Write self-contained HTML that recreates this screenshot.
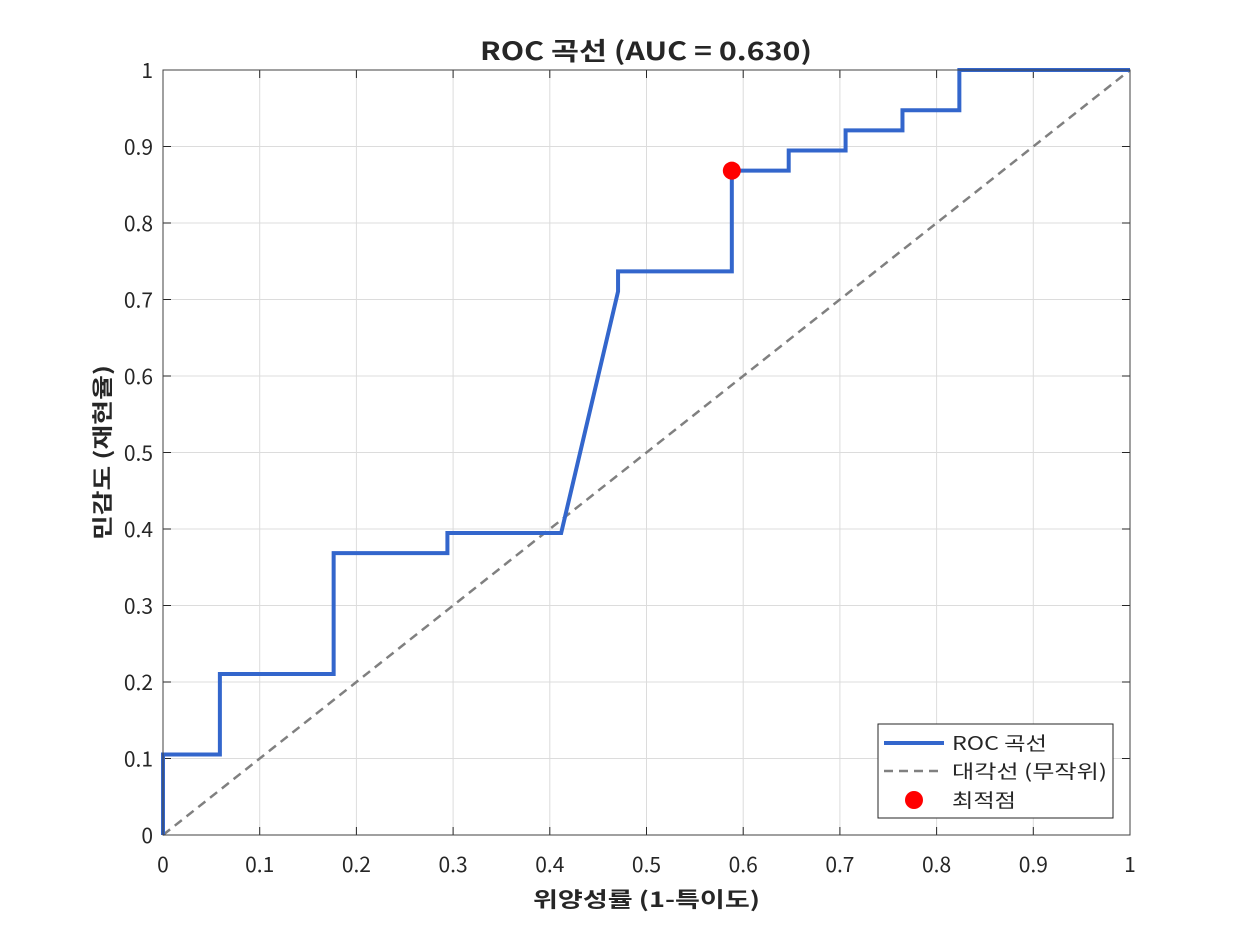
<!DOCTYPE html>
<html><head><meta charset="utf-8"><style>
body{margin:0;background:#fff;font-family:"Noto Sans CJK KR",sans-serif;}
</style></head><body>
<svg id="chart" width="1250" height="938" xmlns="http://www.w3.org/2000/svg" font-family="Noto Sans CJK KR, sans-serif">
<rect width="1250" height="938" fill="#fff"/>
<g id="grid"></g>
<g id="ticks"></g>
<g id="series"></g>
<rect x="163" y="70" width="967" height="765" fill="none" stroke="#404040" stroke-width="1"/>
<text x="480" y="60" font-size="25" font-weight="bold" fill="#262626" textLength="332" lengthAdjust="spacingAndGlyphs">ROC 곡선 (AUC = 0.630)</text>
<text x="533" y="907" font-size="21" font-weight="bold" fill="#262626" textLength="227" lengthAdjust="spacingAndGlyphs">위양성률 (1-특이도)</text>
<text transform="translate(110,540) rotate(-90)" font-size="21" font-weight="bold" fill="#262626" textLength="175" lengthAdjust="spacingAndGlyphs">민감도 (재현율)</text>
<g>
<rect x="878" y="724" width="235" height="94" fill="#fff" stroke="#262626" stroke-width="1"/>
<line x1="884" y1="743" x2="944" y2="743" stroke="#3366cc" stroke-width="4"/>
<text x="952" y="750" font-size="19" fill="#262626" textLength="95" lengthAdjust="spacingAndGlyphs">ROC 곡선</text>
<line x1="884" y1="771" x2="944" y2="771" stroke="#808080" stroke-width="2.5" stroke-dasharray="9,6"/>
<text x="952" y="778" font-size="19" fill="#262626" textLength="155" lengthAdjust="spacingAndGlyphs">대각선 (무작위)</text>
<circle cx="914" cy="800" r="9" fill="#ff0000"/>
<text x="952" y="807" font-size="19" fill="#262626" textLength="64" lengthAdjust="spacingAndGlyphs">최적점</text>
</g>
</svg>
<script>
const fprValues=[0,0,1/17,1/17,3/17,3/17,5/17,5/17,7/17,8/17,8/17,10/17,10/17,11/17,11/17,12/17,12/17,13/17,13/17,14/17,14/17,1];
const tprValues=[0,4/38,4/38,8/38,8/38,14/38,14/38,15/38,15/38,27/38,28/38,28/38,33/38,33/38,34/38,34/38,35/38,35/38,36/38,36/38,1,1];
const optimalPoint=[10/17,33/38];
const tickValues=[0,0.1,0.2,0.3,0.4,0.5,0.6,0.7,0.8,0.9,1];
const tickLabels=["0","0.1","0.2","0.3","0.4","0.5","0.6","0.7","0.8","0.9","1"];
const NS="http://www.w3.org/2000/svg";
const X0=163,X1=1130,Y0=835,Y1=70;
const sx=v=>X0+v*(X1-X0), sy=v=>Y0-v*(Y0-Y1);
function mk(tag,attrs,parent){const e=document.createElementNS(NS,tag);for(const k in attrs)e.setAttribute(k,attrs[k]);parent.appendChild(e);return e;}
const grid=document.getElementById('grid'),ticks=document.getElementById('ticks'),series=document.getElementById('series');
tickValues.forEach((v,i)=>{
 let g=mk('line',{x1:sx(v),x2:sx(v),y1:Y0,y2:Y1,stroke:'#dcdcdc','stroke-width':1},grid);
 
 
 g=mk('line',{x1:X0,x2:X1,y1:sy(v),y2:sy(v),stroke:'#dcdcdc','stroke-width':1},grid);
 
 
 let t=mk('text',{x:sx(v),y:Y0+37,'text-anchor':'middle','font-size':21,fill:'#262626'},ticks);t.textContent=tickLabels[i];
 
 
 t=mk('text',{x:X0-10,y:sy(v)+8,'text-anchor':'end','font-size':21,fill:'#262626'},ticks);t.textContent=tickLabels[i];
 
 
 mk('line',{x1:sx(v),x2:sx(v),y1:Y0,y2:Y0-8,stroke:'#262626'},ticks);
 mk('line',{x1:sx(v),x2:sx(v),y1:Y1,y2:Y1+8,stroke:'#262626'},ticks);
 mk('line',{x1:X0,x2:X0+8,y1:sy(v),y2:sy(v),stroke:'#262626'},ticks);
 mk('line',{x1:X1,x2:X1-8,y1:sy(v),y2:sy(v),stroke:'#262626'},ticks);
});
let d=mk('line',{x1:sx(0),y1:sy(0),x2:sx(1),y2:sy(1),stroke:'#808080','stroke-width':2.5,'stroke-dasharray':'9,6'},series);


let p=mk('polyline',{points:fprValues.map((x,i)=>sx(x)+','+sy(tprValues[i])).join(' '),fill:'none',stroke:'#3366cc','stroke-width':4,'stroke-linejoin':'miter'},series);


let c=mk('circle',{cx:sx(optimalPoint[0]),cy:sy(optimalPoint[1]),r:9,fill:'#ff0000'},series);


</script>
</body></html>
